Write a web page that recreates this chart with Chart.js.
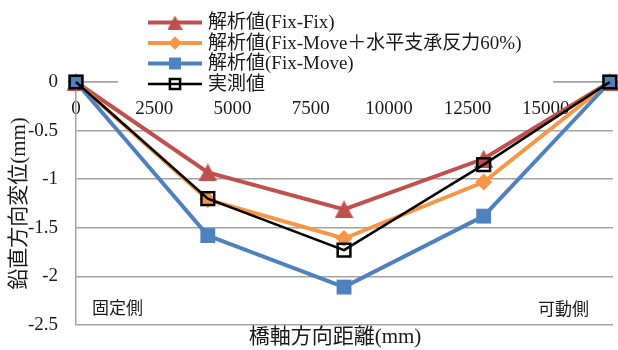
<!DOCTYPE html>
<html>
<head>
<meta charset="utf-8">
<script src="https://cdn.jsdelivr.net/npm/chart.js@4/dist/chart.umd.min.js"></script>
<style>
  html, body { margin: 0; padding: 0; background: #ffffff; }
  #wrap { width: 618px; height: 350px; position: relative; }
</style>
</head>
<body>
<div id="wrap"><canvas id="chart" width="618" height="350"></canvas></div>
<script>
// Distance along the bridge axis (mm) at each measuring point
const distances = [0, 4210, 8560, 13020, 17050];

// Vertical displacement (mm)
const fixFix     = [0, -0.93, -1.31, -0.79, 0];
const fixMove60  = [0, -1.21, -1.61, -1.03, 0];
const fixMove    = [0, -1.58, -2.11, -1.38, 0];
const measured   = [0, -1.20, -1.73, -0.85, 0];

const seriesNames = [
  '解析値(Fix-Fix)',
  '解析値(Fix-Move＋水平支承反力60%)',
  '解析値(Fix-Move)',
  '実測値'
];

// Axis tick values
const xTickValues = [0, 2500, 5000, 7500, 10000, 12500, 15000];
const yTickValues = [0, -0.5, -1, -1.5, -2, -2.5];

const xTitle = '橋軸方向距離(mm)';
const yTitle = '鉛直方向変位(mm)';
const fixedSide = '固定側';
const movableSide = '可動側';

const xMin = 0, xMax = 17150;
const yMin = -2.5, yMax = 0;

const FONT = '"Liberation Serif", "Noto Sans CJK JP", serif';
const TEXT = '#1a1a1a';
const GRID = '#a3a3a3';

// Triangle marker with its base below the centre, like spreadsheet charts draw it
function triangleMarker(w, h, color) {
  const c = document.createElement('canvas');
  c.width = w; c.height = h;
  const g = c.getContext('2d');
  g.fillStyle = color;
  g.beginPath();
  g.moveTo(w / 2, 0);
  g.lineTo(w, h);
  g.lineTo(0, h);
  g.closePath();
  g.fill();
  return c;
}

const toPoints = ys => distances.map((x, i) => ({ x: x, y: ys[i] }));

const datasets = [
  {
    label: seriesNames[0], data: toPoints(fixFix),
    borderColor: '#c0504d', backgroundColor: '#c0504d', borderWidth: 4,
    pointStyle: triangleMarker(19, 18, '#c0504d'), pointRadius: 9,
    legendStyle: triangleMarker(15, 14, '#c0504d'), order: 3
  },
  {
    label: seriesNames[1], data: toPoints(fixMove60),
    borderColor: '#f79646', backgroundColor: '#f79646', borderWidth: 4,
    pointStyle: 'rectRot', pointRadius: 8.5, pointBorderWidth: 0, order: 2
  },
  {
    label: seriesNames[2], data: toPoints(fixMove),
    borderColor: '#4f81bd', backgroundColor: '#4f81bd', borderWidth: 4,
    pointStyle: 'rect', pointRadius: 10.5, pointBorderWidth: 0, order: 1
  },
  {
    label: seriesNames[3], data: toPoints(measured),
    borderColor: '#000000', backgroundColor: 'rgba(0,0,0,0)', borderWidth: 2.5,
    pointStyle: 'rect', pointRadius: 9, pointBorderWidth: 2.5, order: 0
  }
];
datasets.forEach(d => {
  d.tension = 0;
  d.clip = false;
  d.pointHoverRadius = d.pointRadius;
  d.pointBorderColor = d.borderColor;
  d.pointBackgroundColor = d.backgroundColor;
  if (d.pointBorderWidth === undefined) d.pointBorderWidth = 0;
});

// Legend with a line through each marker, drawn over a white box
const legendPlugin = {
  id: 'lineLegend',
  afterDraw(chart) {
    const ctx = chart.ctx;
    ctx.save();
    ctx.fillStyle = '#ffffff';
    ctx.fillRect(118, 8, 435, 87);
    const x0 = 148, x1 = 202, rowY = 22.5, rowH = 20.5;
    const cx = (x0 + x1) / 2;
    chart.data.datasets.forEach((d, i) => {
      const y = rowY + i * rowH;
      ctx.strokeStyle = d.borderColor;
      ctx.lineWidth = d.borderWidth;
      ctx.beginPath();
      ctx.moveTo(x0, y);
      ctx.lineTo(x1, y);
      ctx.stroke();
      const style = d.legendStyle || d.pointStyle;
      const r = d.pointRadius * 0.8;
      if (typeof style === 'string') {
        ctx.fillStyle = d.backgroundColor;
        ctx.strokeStyle = d.borderColor;
        ctx.lineWidth = d.pointBorderWidth;
        ctx.beginPath();
        if (style === 'rectRot') {
          ctx.moveTo(cx - r, y); ctx.lineTo(cx, y - r); ctx.lineTo(cx + r, y); ctx.lineTo(cx, y + r);
          ctx.closePath();
        } else {
          const s = r * Math.SQRT1_2;
          ctx.rect(cx - s, y - s, 2 * s, 2 * s);
        }
        ctx.fill();
        if (d.pointBorderWidth > 0) ctx.stroke();
      } else {
        ctx.drawImage(style, cx - style.width / 2, y - style.height / 2);
      }
      ctx.fillStyle = TEXT;
      ctx.font = '19px ' + FONT;
      ctx.textAlign = 'left';
      ctx.textBaseline = 'middle';
      ctx.fillText(d.label, 208, y + 1);
    });
    ctx.restore();
  }
};

// Axis titles and the support-side captions
const captionPlugin = {
  id: 'captions',
  afterDraw(chart) {
    const ctx = chart.ctx;
    const area = chart.chartArea;
    ctx.save();
    ctx.fillStyle = TEXT;
    ctx.textBaseline = 'middle';
    ctx.font = '21px ' + FONT;
    ctx.textAlign = 'center';
    ctx.fillText(xTitle, 335, 337);
    ctx.save();
    ctx.translate(19, (area.top + area.bottom) / 2);
    ctx.rotate(-Math.PI / 2);
    ctx.fillText(yTitle, 0, 0);
    ctx.restore();
    ctx.font = '17px ' + FONT;
    ctx.textAlign = 'left';
    ctx.fillText(fixedSide, area.left + 16, area.bottom - 15);
    ctx.fillText(movableSide, area.right - 75, area.bottom - 14);
    ctx.restore();
  }
};

new Chart(document.getElementById('chart'), {
  type: 'line',
  data: { datasets: datasets },
  plugins: [legendPlugin, captionPlugin],
  options: {
    responsive: false,
    animation: false,
    layout: { autoPadding: false, padding: { left: 0, right: 5, top: 82, bottom: 25 } },
    plugins: { legend: { display: false }, tooltip: { enabled: false } },
    scales: {
      x: {
        type: 'linear',
        position: { y: 0 },
        min: xMin, max: xMax,
        afterBuildTicks: s => { s.ticks = xTickValues.map(v => ({ value: v })); },
        afterFit: s => { s.paddingLeft = 0; s.paddingRight = 0; s.paddingTop = 0; s.paddingBottom = 0; },
        grid: { display: false, drawTicks: false },
        border: { display: true, color: GRID, width: 1.5 },
        ticks: {
          padding: 16,
          color: TEXT, font: { family: FONT, size: 19 },
          maxRotation: 0, autoSkip: false,
          callback: v => String(v)
        }
      },
      y: {
        type: 'linear',
        position: 'left',
        min: yMin, max: yMax,
        afterFit: s => { s.width = 76; s.paddingTop = 0; s.paddingBottom = 0; },
        afterBuildTicks: s => { s.ticks = yTickValues.map(v => ({ value: v })); },
        grid: { color: GRID, lineWidth: 1.5, drawTicks: false },
        border: { display: true, color: GRID, width: 1.5 },
        ticks: {
          padding: 18,
          color: TEXT, font: { family: FONT, size: 19 },
          callback: v => String(v)
        }
      }
    }
  }
});
</script>
</body>
</html>
